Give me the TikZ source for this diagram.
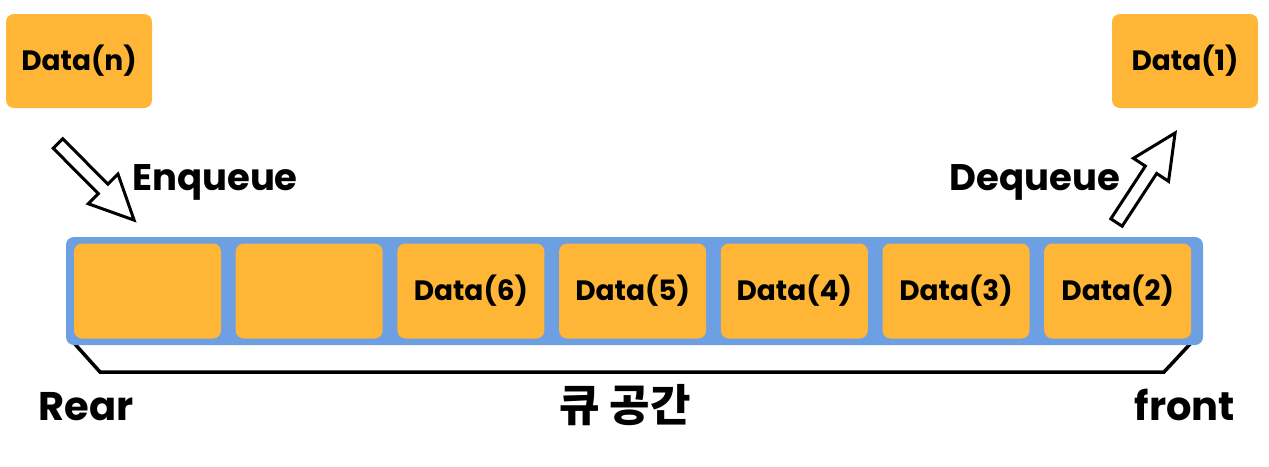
\documentclass[tikz,border=0pt]{standalone}
\usepackage{fontspec}
\setmainfont{Poppins}
\newfontfamily\krfont{Noto Sans CJK KR}
\definecolor{cellor}{RGB}{255,182,54}
\definecolor{qblue}{RGB}{108,160,226}
\begin{document}
\begin{tikzpicture}[x=1pt,y=1pt,
  cell/.style={fill=cellor, rounded corners=8pt, minimum width=147pt, minimum height=95pt, inner sep=0pt, font=\fontsize{28}{30}\selectfont\bfseries},
  big/.style={inner sep=0pt, font=\fontsize{40}{44}\selectfont\bfseries},
  verb/.style={inner sep=0pt, font=\fontsize{37}{40}\selectfont\bfseries},
  hollow/.style={draw=black, fill=white, line width=3pt, line join=miter},
  brack/.style={draw=black, line width=3.5pt, line join=miter}]
\path[use as bounding box] (0,0) rectangle (1269,-466);

% bracket
\coordinate (b1) at (74,-343);
\coordinate (b2) at (100,-372);
\coordinate (b3) at (1164,-372);
\coordinate (b4) at (1191,-343);
\draw[brack] (b1) -- (b2) -- (b3) -- (b4);

% queue container
\node[fill=qblue, rounded corners=8pt, minimum width=1137pt, minimum height=108pt, inner sep=0pt] (queue) at (634.5,-291) {};

% cells
\node[cell] (c7) at (147.5,-291) {};
\node[cell] (c6) at (309.2,-291) {};
\node[cell] (c5) at (470.9,-291) {\raisebox{-3pt}{Data(6)}};
\node[cell] (c4) at (632.6,-291) {\raisebox{-3pt}{Data(5)}};
\node[cell] (c3) at (794.3,-291) {\raisebox{-3pt}{Data(4)}};
\node[cell] (c2) at (956.0,-291) {\raisebox{-3pt}{Data(3)}};
\node[cell] (c1) at (1117.7,-291) {\raisebox{-3pt}{Data(2)}};

% outside data
\node[cell, minimum width=146pt, minimum height=94pt] (dn) at (79,-61) {\raisebox{-2pt}{Data(n)}};
\node[cell, minimum width=146pt, minimum height=94pt] (d1) at (1185,-61) {\raisebox{-2pt}{Data(1)}};

% arrows
\draw[hollow, shift={(58,-143.5)}, rotate=-45.2]
  (0,6.75) -- (64,6.75) -- (64,21) -- (108,0) -- (64,-21) -- (64,-6.75) -- (0,-6.75) -- cycle;
\draw[hollow, shift={(1116.5,-222.5)}, rotate=56.8]
  (0,6.75) -- (63,6.75) -- (63,21) -- (107,0) -- (63,-21) -- (63,-6.75) -- (0,-6.75) -- cycle;

% labels
\node[verb, anchor=base] (enq) at (215,-190) {Enqueue};
\node[verb, anchor=base] (deq) at (1035,-190) {Dequeue};
\node[big, anchor=base] (rear) at (86,-420) {Rear};
\node[big, anchor=base] (front) at (1185,-420) {front};
\node[inner sep=0pt, font=\krfont\fontsize{44}{48}\selectfont\bfseries] (space) at (625,-405) {큐 공간};
\end{tikzpicture}
\end{document}
